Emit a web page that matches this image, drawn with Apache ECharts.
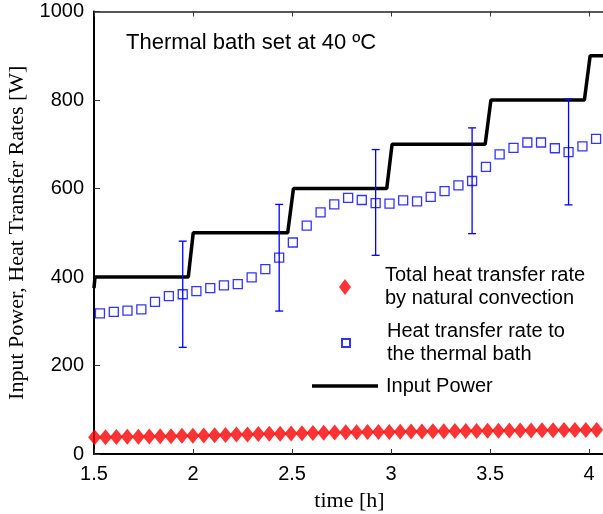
<!DOCTYPE html>
<html>
<head>
<meta charset="utf-8">
<script src="https://cdn.jsdelivr.net/npm/echarts@6/dist/echarts.min.js"></script>
<style>html,body{margin:0;padding:0;background:#fff;}#c{width:603px;height:514px;}</style>
</head>
<body>
<div id="c"></div>
<script>
// Total heat transfer rate by natural convection (red diamonds)
const convTime = [1.503,1.558,1.613,1.668,1.724,1.779,1.834,1.889,1.944,1.999,2.054,2.109,2.164,2.219,2.275,2.330,2.385,2.440,2.495,2.550,2.605,2.660,2.715,2.771,2.826,2.881,2.936,2.991,3.046,3.101,3.156,3.211,3.266,3.322,3.377,3.432,3.487,3.542,3.597,3.652,3.707,3.762,3.818,3.873,3.928,3.983,4.038];
const convValue = [38,38,38.5,39,39,39.5,40,40,41,41,42,42.5,43,44,44,45,45.5,46,46.5,47,47.5,48,48.5,49,49,49.5,50,50,50.5,51,51,51.5,51.5,52,52,52,52.5,52.5,53,53,53,53.5,53.5,54,54,54,54.5];
// Heat transfer rate to the thermal bath (blue squares)
const bathTime = [1.530,1.600,1.669,1.739,1.808,1.878,1.948,2.017,2.087,2.156,2.226,2.296,2.365,2.435,2.504,2.574,2.644,2.713,2.783,2.852,2.922,2.992,3.061,3.131,3.200,3.270,3.340,3.409,3.479,3.548,3.618,3.688,3.757,3.827,3.896,3.966,4.035];
const bathValue = [318,321,324,327,344,357,361,368,375,381,384,399,418,444,478,516,546,564,579,574,567,566,573,571,581,594,607,617,649,677,692,704,704,691,682,695,712];
// Error bars on the bath series
const errTime = [1.948,2.435,2.922,3.409,3.896];
const errLow = [241,323,449,498,563];
const errHigh = [481,564,688,737,802];
// Input power (step line)
const powerTime = [1.5,1.505,1.976,2.001,2.478,2.507,2.978,3.005,3.475,3.504,3.976,4.005,4.1];
const powerValue = [375,400,400,500,500,600,600,700,700,800,800,900,900];
// Axis ticks
const xTicks = [1.5,2,2.5,3,3.5,4];
const yTicks = [0,200,400,600,800,1000];

const nameConv = 'Total heat transfer rate\nby natural convection';
const nameBath = 'Heat transfer rate to\nthe thermal bath';
const namePower = 'Input Power';

const SANS = '"Liberation Sans", Arial, sans-serif';
const SERIF = '"Liberation Serif", "Times New Roman", serif';

const chart = echarts.init(document.getElementById('c'), null, {renderer: 'canvas'});

const xFmt = v => xTicks.some(t => Math.abs(t - v) < 1e-6) ? String(v) : '';
const yFmt = v => yTicks.some(t => Math.abs(t - v) < 1e-6) ? String(v) : '';

const legendText = {fontFamily: SANS, fontSize: 20, color: '#000', lineHeight: 23};

chart.setOption({
  animation: false,
  backgroundColor: '#fff',
  title: {
    text: 'Thermal bath set at 40 ºC',
    left: 126, top: 32, padding: 0,
    textStyle: {fontFamily: SANS, fontSize: 22, fontWeight: 'normal', color: '#000'}
  },
  grid: {left: 94, top: 11.5, right: -2, bottom: 60, show: false, containLabel: false, outerBoundsMode: 'none'},
  legend: [
    {data: [nameConv], left: 339, top: 264, padding: 0, icon: 'diamond', itemWidth: 12, itemHeight: 16,
     textStyle: Object.assign({padding: [0,0,0,29]}, legendText), selectedMode: false},
    {data: [nameBath], left: 341, top: 320, padding: 0, icon: 'rect', itemWidth: 8, itemHeight: 8,
     textStyle: Object.assign({padding: [0,0,0,32]}, legendText), selectedMode: false},
    {data: [namePower], left: 312, top: 374.5, padding: 0, icon: 'rect', itemWidth: 66, itemHeight: 3.5,
     itemStyle: {color: '#000'},
     textStyle: Object.assign({padding: [0,0,0,3]}, legendText), selectedMode: false}
  ],
  xAxis: [
    {type: 'value', min: 1.5, max: 4.08, interval: 0.5, position: 'bottom',
     name: 'time [h]', nameLocation: 'middle', nameGap: 36,
     nameTextStyle: {fontFamily: SERIF, fontSize: 22, color: '#000'},
     axisLine: {show: true, onZero: false, lineStyle: {color: '#000', width: 2}},
     axisTick: {show: true, inside: true, length: 5, lineStyle: {color: '#333', width: 1}},
     axisLabel: {formatter: xFmt, showMaxLabel: false, margin: 10, fontFamily: SANS, fontSize: 20, color: '#000'},
     splitLine: {show: false}},
    {type: 'value', min: 1.5, max: 4.08, interval: 0.5, position: 'top',
     axisLine: {show: true, onZero: false, lineStyle: {color: '#222', width: 1.5}},
     axisTick: {show: true, inside: true, length: 5, lineStyle: {color: '#333', width: 1}},
     axisLabel: {show: false}, splitLine: {show: false}}
  ],
  yAxis: [
    {type: 'value', min: 0, max: 1000, interval: 200, position: 'left',
     name: 'Input Power, Heat Transfer Rates [W]', nameLocation: 'middle', nameGap: 64, nameRotate: 90,
     nameTextStyle: {fontFamily: SERIF, fontSize: 22, color: '#000'},
     axisLine: {show: true, onZero: false, lineStyle: {color: '#000', width: 2}},
     axisTick: {show: true, inside: true, length: 6, lineStyle: {color: '#333', width: 1}},
     axisLabel: {formatter: yFmt, margin: 10, fontFamily: SANS, fontSize: 20, color: '#000'},
     splitLine: {show: false}}
  ],
  series: [
    {name: nameBath, type: 'scatter', symbol: 'rect', symbolSize: 9, z: 3,
     itemStyle: {color: 'rgba(255,255,255,0)', borderColor: '#0000ff', borderWidth: 1.3},
     data: bathTime.map((t, i) => [t, bathValue[i]])},
    {name: namePower, type: 'line', symbol: 'none', showSymbol: false, z: 4,
     lineStyle: {color: '#000', width: 3.5}, itemStyle: {color: '#000'},
     data: powerTime.map((t, i) => [t, powerValue[i]])},
    {name: 'err', type: 'custom', z: 5,
     renderItem: function (params, api) {
       const x = api.value(0), lo = api.value(1), hi = api.value(2);
       const a = api.coord([x, hi]), b = api.coord([x, lo]);
       const st = {stroke: '#0000ff', lineWidth: 1.3};
       const cw = 4;
       return {type: 'group', children: [
         {type: 'line', shape: {x1: a[0], y1: a[1], x2: b[0], y2: b[1]}, style: st},
         {type: 'line', shape: {x1: a[0]-cw, y1: a[1], x2: a[0]+cw, y2: a[1]}, style: st},
         {type: 'line', shape: {x1: b[0]-cw, y1: b[1], x2: b[0]+cw, y2: b[1]}, style: st}
       ]};
     },
     data: errTime.map((t, i) => [t, errLow[i], errHigh[i]])},
    {name: nameConv, type: 'scatter', symbol: 'diamond', symbolSize: [13, 16], z: 6,
     itemStyle: {color: '#ff0000'},
     data: convTime.map((t, i) => [t, convValue[i]])}
  ]
});
</script>
</body>
</html>
